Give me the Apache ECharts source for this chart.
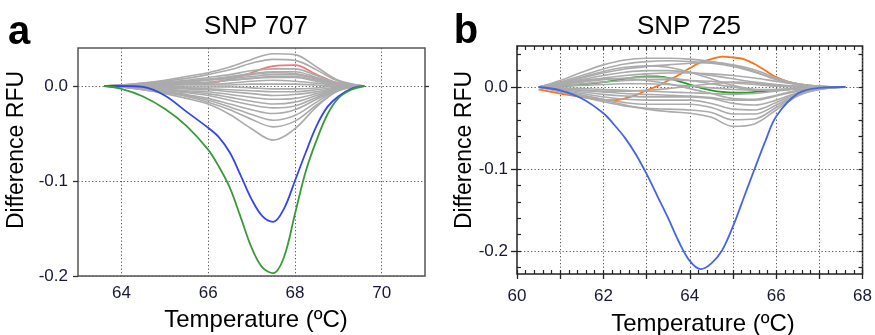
<!DOCTYPE html>
<html><head><meta charset="utf-8">
<script src="https://cdn.jsdelivr.net/npm/echarts@6/dist/echarts.min.js"></script>
<style>html,body{margin:0;padding:0;background:#fff}#c{width:875px;height:335px}</style>
</head><body><div id="c"></div>
<script>
// ---------- Panel a (SNP 707) ----------
const tempAGray  = [63.6,64.0,64.5,65.0,65.5,66.0,66.5,67.0,67.5,68.0,68.5,69.0,69.6];
const tempAColor = [63.6,64.0,64.5,65.0,65.5,66.0,66.25,66.5,66.75,67.0,67.25,67.5,67.75,68.0,68.25,68.5,68.75,69.0,69.3,69.6];
const grayA01 = [0,0.001,0.003,0.006,0.010,0.014,0.020,0.028,0.034,0.033,0.020,0.006,0];
const grayA02 = [0,0.001,0.003,0.005,0.008,0.012,0.017,0.024,0.028,0.027,0.017,0.005,0];
const grayA03 = [0,0.001,0.002,0.004,0.006,0.009,0.012,0.016,0.018,0.018,0.011,0.003,0];
const grayA04 = [0,0.001,0.002,0.003,0.005,0.007,0.010,0.013,0.015,0.015,0.009,0.003,0];
const grayA05 = [0,0,0.001,0.003,0.004,0.006,0.008,0.010,0.012,0.012,0.007,0.002,0];
const grayA06 = [0,0,0.001,0.002,0.003,0.004,0.006,0.008,0.009,0.009,0.005,0.001,0];
const grayA07 = [0,0,0.001,0.001,0.002,0.002,0.003,0.005,0.006,0.005,0.003,0.001,0];
const grayA08 = [0,0,0,0.001,0.001,0.001,0.001,0.002,0.002,0.002,0.001,0,0];
const grayA09 = [0,0,0,0,-0.001,-0.001,-0.001,-0.002,-0.003,-0.003,-0.002,0,0];
const grayA10 = [0,0,-0.001,-0.001,-0.002,-0.003,-0.004,-0.005,-0.006,-0.006,-0.004,-0.001,0];
const grayA11 = [0,0,-0.001,-0.002,-0.003,-0.004,-0.006,-0.008,-0.010,-0.009,-0.006,-0.002,0];
const grayA12 = [0,-0.001,-0.002,-0.003,-0.005,-0.006,-0.009,-0.012,-0.014,-0.013,-0.008,-0.002,0];
const grayA13 = [0,-0.001,-0.002,-0.004,-0.006,-0.008,-0.012,-0.016,-0.019,-0.017,-0.010,-0.003,0];
const grayA14 = [0,-0.001,-0.003,-0.005,-0.007,-0.010,-0.015,-0.020,-0.023,-0.021,-0.012,-0.003,0];
const grayA15 = [0,-0.001,-0.003,-0.006,-0.009,-0.013,-0.019,-0.025,-0.029,-0.025,-0.014,-0.004,0];
const grayA16 = [0,-0.001,-0.003,-0.006,-0.010,-0.015,-0.022,-0.030,-0.036,-0.031,-0.017,-0.004,0];
const grayA17 = [0,-0.001,-0.004,-0.007,-0.011,-0.017,-0.025,-0.035,-0.043,-0.037,-0.020,-0.005,0];
const grayA18 = [0,-0.001,-0.004,-0.008,-0.013,-0.019,-0.030,-0.045,-0.057,-0.045,-0.022,-0.005,0];
const grayA19 = [0,0.001,0.002,0.003,0.005,0.007,0.009,0.012,0.014,0.013,0.008,0.002,0];
const grayA20 = [0,0,0.001,0.002,0.003,0.004,0.006,0.008,0.010,0.010,0.006,0.002,0];
const grayCurvesA = [grayA01,grayA02,grayA19,grayA03,grayA04,grayA05,grayA20,grayA06,grayA07,grayA08,grayA09,grayA10,grayA11,grayA12,grayA13,grayA14,grayA15,grayA16,grayA17,grayA18];
const redA   = [0,0,0.001,0.001,0.002,0.003,0.007,0.014,0.021,0.022,0.012,0.003,0];
const blueA  = [0,0,-0.001,-0.010,-0.027,-0.044,-0.054,-0.070,-0.094,-0.119,-0.137,-0.143,-0.129,-0.100,-0.070,-0.042,-0.022,-0.011,-0.003,0];
const greenA = [0,-0.003,-0.011,-0.024,-0.042,-0.067,-0.085,-0.107,-0.138,-0.170,-0.191,-0.197,-0.180,-0.135,-0.090,-0.057,-0.030,-0.013,-0.004,0];
const tickAx = [64,66,68,70];
const tickAy = [-0.2,-0.1,0.0];

// ---------- Panel b (SNP 725) ----------
const tempBGray  = [60.5,61.0,61.5,62.0,62.5,63.0,63.5,64.0,64.5,65.0,65.5,66.0,66.5,67.0,67.6];
const tempBColor = [60.5,61.0,61.5,62.0,62.25,62.5,62.75,63.0,63.25,63.5,63.75,64.0,64.25,64.5,64.75,65.0,65.25,65.5,65.75,66.0,66.5,67.0,67.6];
const grayB01 = [0,0.008,0.018,0.027,0.033,0.035,0.035,0.034,0.031,0.026,0.019,0.009,0.004,0.001,0];
const grayB02 = [0,0.006,0.014,0.022,0.028,0.031,0.032,0.031,0.029,0.025,0.018,0.010,0.004,0.001,0];
const grayB03 = [0,0.005,0.011,0.017,0.022,0.025,0.027,0.029,0.030,0.027,0.021,0.011,0.004,0.001,0];
const grayB04 = [0,0.004,0.009,0.014,0.018,0.020,0.020,0.018,0.014,0.010,0.006,0.003,0.001,0,0];
const grayB05 = [0,0.003,0.007,0.011,0.014,0.016,0.017,0.017,0.016,0.014,0.011,0.007,0.003,0.001,0];
const grayB06 = [0,0.003,0.006,0.009,0.011,0.012,0.011,0.008,0.004,0,-0.003,-0.003,-0.002,-0.001,0];
const grayB07 = [0,0.002,0.004,0.006,0.008,0.009,0.009,0.008,0.007,0.005,0.003,0.001,0,0,0];
const grayB08 = [0,0.001,0.002,0.003,0.004,0.004,0.003,0.001,-0.001,-0.003,-0.004,-0.003,-0.002,-0.001,0];
const grayB09 = [0,-0.001,-0.002,-0.003,-0.004,-0.005,-0.006,-0.007,-0.008,-0.009,-0.008,-0.005,-0.002,-0.001,0];
const grayB10 = [0,-0.002,-0.004,-0.006,-0.008,-0.009,-0.010,-0.011,-0.013,-0.016,-0.016,-0.011,-0.005,-0.001,0];
const grayB11 = [0,-0.003,-0.006,-0.009,-0.011,-0.012,-0.012,-0.012,-0.014,-0.020,-0.022,-0.016,-0.007,-0.002,0];
const grayB12 = [0,-0.004,-0.008,-0.012,-0.015,-0.016,-0.016,-0.016,-0.020,-0.027,-0.028,-0.019,-0.008,-0.002,0];
const grayB13 = [0,-0.005,-0.010,-0.015,-0.019,-0.021,-0.021,-0.021,-0.025,-0.033,-0.033,-0.022,-0.009,-0.002,0];
const grayB14 = [0,-0.006,-0.012,-0.018,-0.023,-0.026,-0.027,-0.028,-0.031,-0.040,-0.039,-0.025,-0.010,-0.003,0];
const grayB15 = [0,-0.004,-0.010,-0.016,-0.022,-0.027,-0.030,-0.032,-0.037,-0.048,-0.045,-0.028,-0.011,-0.003,0];
const grayB16 = [0,0.004,0.008,0.010,0.010,0.008,0.004,-0.002,-0.008,-0.014,-0.015,-0.010,-0.004,-0.001,0];
const grayB17 = [0,0.005,0.012,0.019,0.024,0.026,0.024,0.018,0.010,0.002,-0.003,-0.004,-0.002,-0.001,0];
const grayB18 = [0,-0.002,-0.004,-0.005,-0.005,-0.004,-0.002,0.001,0.004,0.006,0.005,0.002,0.001,0,0];
const grayCurvesB = [grayB01,grayB02,grayB03,grayB04,grayB05,grayB06,grayB07,grayB08,grayB09,grayB10,grayB11,grayB12,grayB13,grayB14,grayB15,grayB16,grayB17,grayB18];
const orangeB = [-0.003,-0.008,-0.012,-0.016,-0.016,-0.014,-0.010,-0.004,0.001,0.008,0.015,0.023,0.030,0.034,0.037,0.036,0.034,0.028,0.020,0.012,0.003,0.0005,0];
const greenB  = [0,0.001,0.003,0.006,0.008,0.010,0.012,0.013,0.013,0.011,0.007,0.003,-0.001,-0.004,-0.006,-0.007,-0.007,-0.006,-0.005,-0.004,-0.002,-0.001,0];
const blueB   = [0,-0.004,-0.014,-0.032,-0.046,-0.062,-0.082,-0.106,-0.133,-0.160,-0.189,-0.212,-0.222,-0.215,-0.199,-0.170,-0.135,-0.100,-0.066,-0.036,-0.008,-0.001,0];
const labelBx = [60,62,64,66,68];
const tickBy  = [-0.2,-0.1,0.0];
const minorBy = [-0.22,-0.2,-0.18,-0.16,-0.14,-0.12,-0.1,-0.08,-0.06,-0.04,-0.02,0,0.02,0.04];

// ---------- build ----------
const FONT = '"Liberation Sans", Arial, Helvetica, sans-serif';
const LABEL_COLOR = '#17173a';
const pairs = (xs, ys) => xs.map((x, i) => [x, ys[i]]);
const dotted = {color:'#5e5e5e', width:1, type:[1.3,2.2]};
function line(xs, ys, color, width, xi, yi){
  return {type:'line', xAxisIndex:xi, yAxisIndex:yi, data:pairs(xs, ys), smooth:0.35,
    showSymbol:false, symbol:'none', silent:true, lineStyle:{color, width}};
}
const series = [];
series.push(line(tempAGray, redA, '#f07878', 1.7, 0, 0));
grayCurvesA.forEach(c => series.push(line(tempAGray, c, '#ababab', 1.6, 0, 0)));
series.push(line(tempAColor, blueA, '#3347f0', 1.8, 0, 0));
series.push(line(tempAColor, greenA, '#3a9a3a', 1.8, 0, 0));
series.push(line(tempBColor, orangeB, '#ff7214', 1.8, 1, 2));
series.push(line(tempBColor, greenB, '#2e9a2e', 1.8, 1, 2));
grayCurvesB.forEach(c => series.push(line(tempBGray, c, '#ababab', 1.6, 1, 2)));
series.push(line(tempBColor, blueB, '#4565e8', 1.8, 1, 2));

const noLine = {show:false, onZero:false};
const lbl = (extra) => Object.assign({fontSize:17, color:LABEL_COLOR, fontFamily:FONT}, extra);

const option = {
  animation:false,
  backgroundColor:'#ffffff',
  grid:[
    {left:78, top:48, width:347, height:228, show:true, borderColor:'#555', borderWidth:1.5, backgroundColor:'rgba(0,0,0,0)'},
    {left:517, top:46, width:349, height:228, show:true, borderColor:'#222', borderWidth:1.5, backgroundColor:'rgba(0,0,0,0)'}
  ],
  xAxis:[
    {gridIndex:0, type:'value', min:63, max:71, position:'bottom', axisLine:noLine,
     axisTick:{show:false, customValues:tickAx},
     axisLabel:lbl({customValues:tickAx, margin:9}),
     splitLine:{show:true, lineStyle:dotted}},
    {gridIndex:1, type:'value', min:60, max:68, interval:1, position:'bottom', axisLine:noLine,
     axisTick:{show:true, inside:false, length:5, lineStyle:{color:'#222', width:1.3}},
     axisLabel:lbl({customValues:labelBx, margin:14}),
     splitLine:{show:true, lineStyle:dotted}},
    {gridIndex:1, type:'value', min:60, max:68, interval:0.2, position:'bottom', axisLine:noLine,
     axisTick:{show:true, inside:true, length:4, lineStyle:{color:'#222', width:1.2}},
     axisLabel:{show:false}, splitLine:{show:false}},
    {gridIndex:1, type:'value', min:60, max:68, interval:0.2, position:'top', axisLine:noLine,
     axisTick:{show:true, inside:true, length:4, lineStyle:{color:'#222', width:1.2}},
     axisLabel:{show:false}, splitLine:{show:false}}
  ],
  yAxis:[
    {gridIndex:0, type:'value', min:-0.2, max:0.04, position:'left', axisLine:noLine,
     axisTick:{show:true, inside:false, length:5, customValues:tickAy, lineStyle:{color:'#333', width:1.3}},
     axisLabel:lbl({customValues:tickAy, margin:10, formatter:v => v.toFixed(1)}),
     splitLine:{show:true, lineStyle:dotted}},
    {gridIndex:0, type:'value', min:-0.2, max:0.04, position:'right', axisLine:noLine,
     axisTick:{show:true, inside:false, length:4, customValues:[0], lineStyle:{color:'#333', width:1.3}},
     axisLabel:{show:false}, splitLine:{show:false}},
    {gridIndex:1, type:'value', min:-0.228, max:0.05, position:'left', axisLine:noLine,
     axisTick:{show:true, inside:false, length:6, customValues:tickBy, lineStyle:{color:'#222', width:1.3}},
     axisLabel:lbl({customValues:tickBy, margin:9, formatter:v => v.toFixed(1)}),
     splitLine:{show:true, lineStyle:dotted}},
    {gridIndex:1, type:'value', min:-0.228, max:0.05, position:'left', axisLine:noLine,
     axisTick:{show:true, inside:true, length:4, customValues:minorBy, lineStyle:{color:'#222', width:1.2}},
     axisLabel:{show:false}, splitLine:{show:false}},
    {gridIndex:1, type:'value', min:-0.228, max:0.05, position:'right', axisLine:noLine,
     axisTick:{show:true, inside:true, length:4, customValues:minorBy, lineStyle:{color:'#222', width:1.2}},
     axisLabel:{show:false}, splitLine:{show:false}}
  ],
  graphic:[
    {type:'text', x:19, y:33, style:{text:'a', font:'bold 40px ' + FONT, fill:'#000', align:'center', verticalAlign:'middle'}},
    {type:'text', x:466, y:32, style:{text:'b', font:'bold 40px ' + FONT, fill:'#000', align:'center', verticalAlign:'middle'}},
    {type:'text', x:256, y:27, style:{text:'SNP 707', font:'26px ' + FONT, fill:'#000', align:'center', verticalAlign:'middle'}},
    {type:'text', x:689, y:27, style:{text:'SNP 725', font:'26px ' + FONT, fill:'#000', align:'center', verticalAlign:'middle'}},
    {type:'text', x:17, y:150, rotation:Math.PI/2, style:{text:'Difference RFU', font:'23px ' + FONT, fill:'#000', align:'center', verticalAlign:'middle'}},
    {type:'text', x:465, y:150, rotation:Math.PI/2, style:{text:'Difference RFU', font:'23px ' + FONT, fill:'#000', align:'center', verticalAlign:'middle'}},
    {type:'text', x:256, y:320, style:{text:'Temperature (ºC)', font:'24px ' + FONT, fill:'#000', align:'center', verticalAlign:'middle'}},
    {type:'text', x:703, y:324, style:{text:'Temperature (ºC)', font:'24px ' + FONT, fill:'#000', align:'center', verticalAlign:'middle'}}
  ],
  series
};
const chart = echarts.init(document.getElementById('c'), null, {renderer:'canvas'});
chart.setOption(option);
</script></body></html>
